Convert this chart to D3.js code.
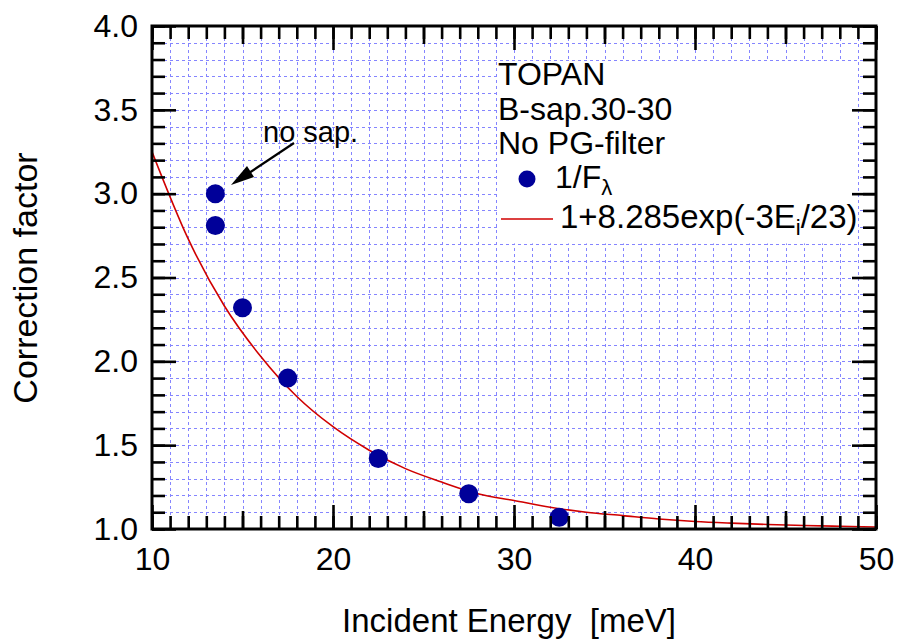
<!DOCTYPE html>
<html>
<head>
<meta charset="utf-8">
<script src="https://cdn.jsdelivr.net/npm/d3@7"></script>
<style>
  html, body { margin: 0; padding: 0; background: #fff; }
  svg { display: block; font-family: "Liberation Sans", Arial, Helvetica, sans-serif; }
</style>
</head>
<body>
<div id="vis"></div>
<script>
/* Measured points (1/F_lambda) */
const energy = [13.5, 13.5, 15, 17.5, 22.5, 27.5, 32.5];
const factor = [3.00, 2.81, 2.32, 1.90, 1.42, 1.21, 1.07];

/* Fit curve */
const fitE = [10, 12, 14, 16, 18, 20, 22, 24, 26, 28, 30, 32, 34, 36, 38, 40, 42, 44, 46, 48, 50];
const fitC = [3.25, 2.73, 2.33, 2.03, 1.79, 1.61, 1.47, 1.36, 1.28, 1.21, 1.17, 1.13,
              1.10, 1.08, 1.06, 1.045, 1.035, 1.027, 1.021, 1.016, 1.012];

/* Axis ticks */
const xLabelTicks  = [10, 20, 30, 40, 50];
const xMediumTicks = [15, 25, 35, 45];
const xMinorTicks  = d3.range(10, 51, 1);
const yLabelTicks  = [1.0, 1.5, 2.0, 2.5, 3.0, 3.5, 4.0];
const yMinorTicks  = d3.range(10, 41, 1).map(d => d / 10);

const legendLines = ["TOPAN", "B-sap.30-30", "No PG-filter"];

const W = 897, H = 643;
const L = 152, R = 876, T = 26, B = 529;

const svg = d3.select("#vis").append("svg")
    .attr("width", W).attr("height", H);

const x = d3.scaleLinear().domain([10, 50]).range([L, R]);
const y = d3.scaleLinear().domain([1, 4]).range([B, T]);

/* grid */
const grid = svg.append("g")
    .attr("stroke", "#8585ff").attr("stroke-width", 1)
    .attr("stroke-dasharray", "3,3");
grid.selectAll(".gx").data(xMinorTicks.slice(1, -1)).join("line")
    .attr("x1", d => Math.round(x(d)) + 0.5).attr("x2", d => Math.round(x(d)) + 0.5)
    .attr("y1", T).attr("y2", B);
grid.selectAll(".gy").data(yMinorTicks.slice(1, -1)).join("line")
    .attr("y1", d => Math.round(y(d)) + 0.5).attr("y2", d => Math.round(y(d)) + 0.5)
    .attr("x1", L).attr("x2", R);

/* legend background */
svg.append("rect")
    .attr("x", x(29) + 1.5).attr("y", y(3.8) + 1.5)
    .attr("width", x(49) - x(29) - 2).attr("height", y(2.7) - y(3.8) - 2)
    .attr("fill", "#fff");

/* fit curve */
svg.append("clipPath").attr("id", "plotclip")
  .append("rect").attr("x", L).attr("y", T).attr("width", R - L).attr("height", B - T);

const line = d3.line()
    .x((d, i) => x(fitE[i]))
    .y(d => y(d))
    .curve(d3.curveMonotoneX);

svg.append("path")
    .datum(fitC)
    .attr("clip-path", "url(#plotclip)")
    .attr("fill", "none")
    .attr("stroke", "#d00000")
    .attr("stroke-width", 1.6)
    .attr("d", line);

/* points */
svg.append("g").selectAll("circle")
  .data(energy)
  .join("circle")
    .attr("cx", d => x(d))
    .attr("cy", (d, i) => y(factor[i]))
    .attr("r", 9.5)
    .attr("fill", "#000099");

/* axes: ticks inside on all four sides */
function ticks(axisFn, vals, size, transform) {
  const g = svg.append("g")
      .attr("transform", transform)
      .call(axisFn.tickValues(vals).tickSize(-size).tickFormat(""));
  g.select(".domain").remove();
  g.selectAll(".tick line").attr("stroke", "#000").attr("stroke-width", 2.6);
  return g;
}
ticks(d3.axisBottom(x), xMinorTicks, 13, `translate(0,${B})`);
ticks(d3.axisTop(x), xMinorTicks, 13, `translate(0,${T})`);
ticks(d3.axisBottom(x), xMediumTicks, 18, `translate(0,${B})`);
ticks(d3.axisTop(x), xMediumTicks, 18, `translate(0,${T})`);
ticks(d3.axisTop(x), xLabelTicks, 24, `translate(0,${T})`);
ticks(d3.axisLeft(y), yMinorTicks, 13, `translate(${L},0)`);
ticks(d3.axisRight(y), yMinorTicks, 13, `translate(${R},0)`);
ticks(d3.axisRight(y), yLabelTicks, 24, `translate(${R},0)`);

const xAxis = svg.append("g")
    .attr("transform", `translate(0,${B})`)
    .call(d3.axisBottom(x).tickValues(xLabelTicks).tickSize(-24).tickPadding(18)
      .tickFormat(d3.format("d")));
xAxis.select(".domain").remove();
xAxis.selectAll(".tick line").attr("stroke", "#000").attr("stroke-width", 2.6);
xAxis.selectAll("text").attr("font-size", 32).attr("fill", "#000")
    .attr("font-family", "Liberation Sans, Arial, sans-serif");

const yAxis = svg.append("g")
    .attr("transform", `translate(${L},0)`)
    .call(d3.axisLeft(y).tickValues(yLabelTicks).tickSize(-24).tickPadding(14)
      .tickFormat(d3.format(".1f")));
yAxis.select(".domain").remove();
yAxis.selectAll(".tick line").attr("stroke", "#000").attr("stroke-width", 2.6);
yAxis.selectAll("text").attr("font-size", 32).attr("fill", "#000")
    .attr("font-family", "Liberation Sans, Arial, sans-serif");

/* frame */
svg.append("rect")
    .attr("x", L).attr("y", T).attr("width", R - L).attr("height", B - T)
    .attr("fill", "none").attr("stroke", "#000").attr("stroke-width", 3);

/* axis titles */
svg.append("text")
    .attr("x", 509).attr("y", 632)
    .attr("text-anchor", "middle").attr("font-size", 33)
    .style("white-space", "pre")
    .text("Incident Energy  [meV]");

svg.append("text")
    .attr("transform", "translate(37,278) rotate(-90)")
    .attr("text-anchor", "middle").attr("font-size", 34)
    .text("Correction factor");

/* legend */
const lg = svg.append("g").attr("font-size", 32);
lg.selectAll(".ll").data(legendLines).join("text")
    .attr("x", 498).attr("y", (d, i) => [85, 120, 154][i])
    .text(d => d);

lg.append("circle").attr("cx", 527).attr("cy", 179).attr("r", 8.5).attr("fill", "#000099");
const t1 = lg.append("text").attr("x", 555).attr("y", 188);
t1.append("tspan").text("1/F");
t1.append("tspan").attr("font-size", 22).attr("dy", 7).text("λ");

lg.append("line").attr("x1", 501).attr("x2", 553).attr("y1", 219).attr("y2", 219)
    .attr("stroke", "#d00000").attr("stroke-width", 1.5);
const t2 = lg.append("text").attr("x", 560).attr("y", 228).attr("font-size", 33);
t2.append("tspan").text("1+8.285exp(-3E");
t2.append("tspan").attr("font-size", 22).attr("dy", 7).text("i");
t2.append("tspan").attr("dy", -7).text("/23)");

/* annotation */
svg.append("line")
    .attr("x1", 294).attr("y1", 143).attr("x2", 240).attr("y2", 179)
    .attr("stroke", "#000").attr("stroke-width", 2.2);
svg.append("path")
    .attr("d", "M231,185 L247,166 L254,177 Z")
    .attr("fill", "#000");

svg.append("text")
    .attr("x", 263).attr("y", 142).attr("font-size", 29)
    .text("no sap.");
</script>
</body>
</html>
